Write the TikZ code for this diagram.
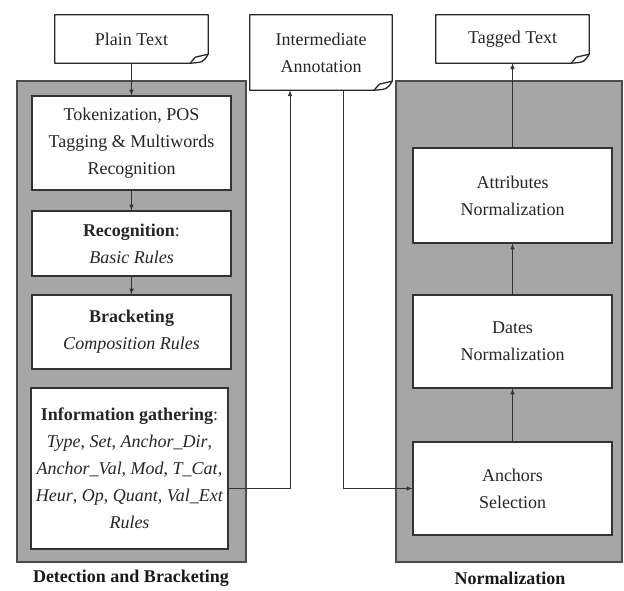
\documentclass[tikz,border=0pt]{standalone}
\usepackage{fontspec}
\setmainfont{Liberation Serif}
\usepackage{tikz}

\begin{document}
\begin{tikzpicture}[x=1pt,y=-1pt]
    \tikzstyle{panel} = [rectangle, draw=black!70, line width=1.3pt, fill=black!35, inner sep=0pt]
    \tikzstyle{stepbox} = [rectangle, draw=black!80, line width=1.1pt, fill=white, inner sep=0pt, align=center, text=black!85, font=\fontsize{18}{27}\selectfont]
    \tikzstyle{docbox} = [rectangle, inner sep=0pt, align=center, text=black!85, font=\fontsize{18}{27}\selectfont]
    \tikzstyle{docline} = [draw=black!85, line width=1.3pt, fill=white, line join=round]
    \tikzstyle{flow} = [->, >=latex, line width=1pt, black!80]
    \tikzstyle{caption} = [text=black!90, font=\bfseries\fontsize{18}{20}\selectfont]

    \useasboundingbox (0,0) rectangle (624,590);

    % Panels
    \node[panel, minimum width=229, minimum height=481] (detect) at (131.5,321.5) {};
    \node[panel, minimum width=226, minimum height=481] (norm) at (509,321.5) {};
    \node[caption] (detectlbl) at (131,578) {Detection and Bracketing};
    \node[caption] (normlbl) at (510,578) {Normalization};

    % Documents
    \node[docbox, minimum width=153, minimum height=48] (plain) at (131.5,39) {};
    \node[docbox, minimum width=142, minimum height=75] (inter) at (321,52.5) {};
    \node[docbox, minimum width=153, minimum height=48] (tagged) at (512.5,39) {};
    \foreach \d in {plain,inter,tagged} {
        \draw[docline] (\d.south west) -- (\d.north west) -- (\d.north east) -- ([yshift=9pt]\d.south east)
            .. controls ([xshift=-5pt,yshift=1pt]\d.south east) .. ([xshift=-18pt]\d.south east) -- cycle;
        \draw[docline] ([yshift=9pt]\d.south east) -- ([xshift=-13pt,yshift=6pt]\d.south east) -- ([xshift=-18pt]\d.south east);
    }
    \node[docbox] at (plain) {Plain Text};
    \node[docbox] at (inter) {Intermediate\\Annotation};
    \node[docbox] at (tagged) {Tagged Text};

    % Detection steps
    \node[stepbox, minimum width=199, minimum height=94] (tok) at (131.5,143) {Tokenization, POS\\Tagging \& Multiwords\\Recognition};
    \node[stepbox, minimum width=199, minimum height=65] (recog) at (131.5,243.5) {\textbf{Recognition}:\\\textit{Basic Rules}};
    \node[stepbox, minimum width=199, minimum height=74] (brack) at (131.5,332) {\textbf{Bracketing}\\\textit{Composition Rules}};
    \node[stepbox, minimum width=197, minimum height=161] (info) at (129.5,468.5) {\textbf{Information gathering}:\\\textit{Type}, \textit{Set}, \textit{Anchor\_Dir},\\\textit{Anchor\_Val}, \textit{Mod}, \textit{T\_Cat},\\\textit{Heur}, \textit{Op}, \textit{Quant}, \textit{Val\_Ext}\\\textit{Rules}};

    % Normalization steps
    \node[stepbox, minimum width=199, minimum height=95] (attr) at (512.5,195.5) {Attributes\\Normalization};
    \node[stepbox, minimum width=199, minimum height=93] (dates) at (512.5,341.5) {Dates\\Normalization};
    \node[stepbox, minimum width=199, minimum height=93] (anchors) at (512.5,488.5) {Anchors\\Selection};

    % Connectors
    \draw[flow] (plain.south) -- (tok.north);
    \draw[flow] (tok.south) -- (recog.north);
    \draw[flow] (recog.south) -- (brack.north);
    \draw[flow] ([yshift=-20pt]info.east) -| ([xshift=-31pt]inter.south);
    \draw[flow] ([xshift=22pt]inter.south) |- (anchors.west);
    \draw[flow] (anchors.north) -- (dates.south);
    \draw[flow] (dates.north) -- (attr.south);
    \draw[flow] (attr.north) -- (tagged.south);
\end{tikzpicture}
\end{document}
